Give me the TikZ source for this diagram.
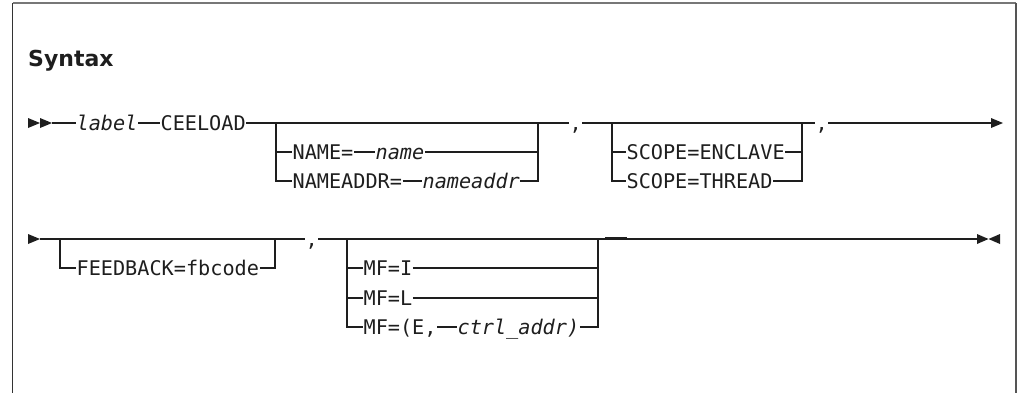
\documentclass[tikz,border=0pt]{standalone}
\usepackage{fontspec}
\setmonofont{DejaVu Sans Mono}
\newfontfamily\headfont{DejaVu Sans}
\usetikzlibrary{calc}
\definecolor{railc}{HTML}{1E1E1E}
\definecolor{framel}{HTML}{333333}
\definecolor{framet}{HTML}{777777}
\definecolor{framer}{HTML}{555555}
\begin{document}
\begin{tikzpicture}[x=1pt,y=-1pt,
  tok/.style={inner xsep=0.6pt, inner ysep=0pt, outer sep=0pt, anchor=west, text=railc,
    font=\ttfamily\fontsize{20.2}{21}\selectfont, text height=14.8pt, text depth=0pt},
  itok/.style={tok, font=\ttfamily\itshape\fontsize{20.2}{21}\selectfont},
  rail/.style={line width=1.2pt, draw=railc},
  tip/.style={fill=railc}]
\useasboundingbox (0,0) rectangle (1018,392);
% frame
\coordinate (fbl) at (12.6,394);
\coordinate (ftl) at (12.6,3);
\coordinate (ftr) at (1016,3);
\coordinate (fbr) at (1016,394);
\draw[framel, line width=1.4pt] (fbl) -- (ftl);
\draw[framet, line width=1.4pt] (ftl) -- (ftr);
\draw[framer, line width=2.6pt] (ftr) -- (fbr);
% title
\node[anchor=base west, inner sep=0pt, text=railc,
  font=\headfont\bfseries\fontsize{22}{24}\selectfont] (title) at (28,66) {Syntax};

% ---------------- row 1 ----------------
\coordinate (s1) at (28,123);
\coordinate (s1e) at (52,123);
\node[itok] (lab) at (76,123) {label};
\node[tok] (cee) at (160,123) {CEELOAD};
\coordinate (b1l) at (276,123);
\coordinate (b1r) at (538,123);
\node[tok] (nm1) at (292,152) {NAME=};
\node[itok] (nm1v) at (375,152) {name};
\node[tok] (nm2) at (292,181) {NAMEADDR=};
\node[itok] (nm2v) at (422,181) {nameaddr};
\node[tok] (c1) at (569,123) {,};
\coordinate (b2l) at (612,123);
\coordinate (b2r) at (802,123);
\node[tok] (sc1) at (626,152) {SCOPE=ENCLAVE};
\node[tok] (sc2) at (626,181) {SCOPE=THREAD};
\node[tok] (c2) at (815,123) {,};
\coordinate (e1) at (1003,123);
\coordinate (e1b) at (991,123);

\fill[tip] (s1) ++(0,-5) -- ++(12,5) -- ++(-12,5) -- cycle;
\fill[tip] (s1) ++(12,-5) -- ++(12,5) -- ++(-12,5) -- cycle;
\draw[rail] (s1e) -- (lab.west);
\draw[rail] (lab.east) -- (cee.west);
\draw[rail] (cee.east) -- (b1r) -- (c1.west);
\draw[rail] (b1l) |- (nm1.west);
\draw[rail] (b1l) |- (nm2.west);
\draw[rail] (nm1.east) -- (nm1v.west);
\draw[rail] (nm1v.east) -| (b1r);
\draw[rail] (nm2.east) -- (nm2v.west);
\draw[rail] (nm2v.east) -| (b1r);
\draw[rail] (c1.east) -- (b2r) -- (c2.west);
\draw[rail] (b2l) |- (sc1.west);
\draw[rail] (b2l) |- (sc2.west);
\draw[rail] (sc1.east) -| (b2r);
\draw[rail] (sc2.east) -| (b2r);
\draw[rail] (c2.east) -- (e1b);
\fill[tip] (e1) -- ++(-12,-5) -- ++(0,10) -- cycle;

% ---------------- row 2 ----------------
\coordinate (s2) at (28,239);
\coordinate (s2e) at (40,239);
\coordinate (b3l) at (60,239);
\coordinate (b3r) at (275,239);
\node[tok] (fb) at (76,268) {FEEDBACK=fbcode};
\node[tok] (c3) at (305,239) {,};
\coordinate (b4l) at (347,239);
\coordinate (b4r) at (598,239);
\node[tok] (mf1) at (363,268) {MF=I};
\node[tok] (mf2) at (363,298) {MF=L};
\node[tok] (mf3) at (363,327) {MF=(E,};
\node[itok] (mf3v) at (457,327) {ctrl\_addr)};
\coordinate (e2) at (977,239);
\coordinate (mk1) at (605,238.2);
\coordinate (mk2) at (627,238.2);

\fill[tip] (s2) ++(0,-5) -- ++(12,5) -- ++(-12,5) -- cycle;
\draw[rail] (s2e) -- (b3r) -- (c3.west);
\draw[rail] (b3l) |- (fb.west);
\draw[rail] (fb.east) -| (b3r);
\draw[rail] (c3.east) -- (e2);
\draw[rail] (b4l) |- (mf1.west);
\draw[rail] (b4l) |- (mf2.west);
\draw[rail] (b4l) |- (mf3.west);
\draw[rail] (mf1.east) -| (b4r);
\draw[rail] (mf2.east) -| (b4r);
\draw[rail] (mf3.east) -- (mf3v.west);
\draw[rail] (mf3v.east) -| (b4r);
\draw[railc, line width=2pt] (mk1) -- (mk2);
\fill[tip] (e2) ++(0,-5) -- ++(11.5,5) -- ++(-11.5,5) -- cycle;
\fill[tip] (e2) ++(23,-5) -- ++(-11.5,5) -- ++(11.5,5) -- cycle;
\end{tikzpicture}
\end{document}
